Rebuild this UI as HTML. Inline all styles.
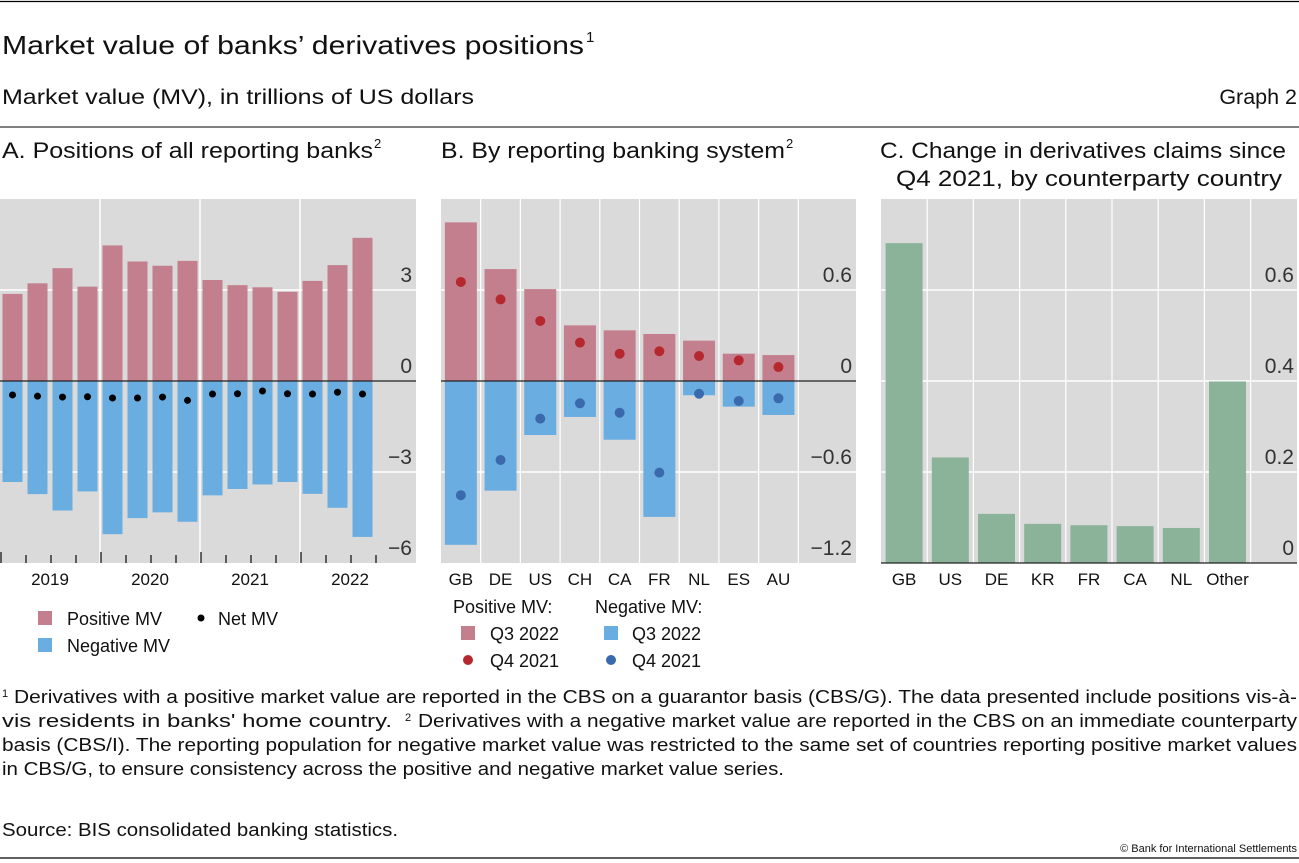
<!DOCTYPE html>
<html><head><meta charset="utf-8"><style>
html,body{margin:0;padding:0;background:#fff;}
svg{display:block;font-family:"Liberation Sans",sans-serif;}
</style></head><body>
<svg id="chart" width="1299" height="863" viewBox="0 0 1299 863" xmlns="http://www.w3.org/2000/svg">
<line x1="0" y1="1.5" x2="1299" y2="1.5" stroke="#000" stroke-width="1.2"/>
<text x="2" y="54" font-size="26" fill="#111" textLength="582" lengthAdjust="spacingAndGlyphs">Market value of banks’ derivatives positions</text>
<text x="586" y="42" font-size="15" fill="#111">1</text>
<text x="2" y="104" font-size="21.5" fill="#111" textLength="472" lengthAdjust="spacingAndGlyphs">Market value (MV), in trillions of US dollars</text>
<text x="1297" y="104" font-size="21.5" fill="#111" text-anchor="end">Graph 2</text>
<line x1="0" y1="127" x2="1299" y2="127" stroke="#000" stroke-width="1"/>
<text x="2" y="158" font-size="22" fill="#111" textLength="371" lengthAdjust="spacingAndGlyphs">A. Positions of all reporting banks</text>
<text x="374" y="148" font-size="13" fill="#111">2</text>
<text x="441" y="158" font-size="22" fill="#111" textLength="344" lengthAdjust="spacingAndGlyphs">B. By reporting banking system</text>
<text x="786" y="148" font-size="13" fill="#111">2</text>
<text x="880" y="158" font-size="22" fill="#111" textLength="406" lengthAdjust="spacingAndGlyphs">C. Change in derivatives claims since</text>
<text x="896" y="186" font-size="22" fill="#111" textLength="386" lengthAdjust="spacingAndGlyphs">Q4 2021, by counterparty country</text>
<g id="pa"></g><g id="pb"></g><g id="pc"></g>
<g id="legends">
<rect x="38" y="611" width="14" height="14" fill="#c47f8e"/>
<text x="67" y="625" font-size="18" fill="#111">Positive MV</text>
<rect x="38" y="638" width="14" height="14" fill="#6aade0"/>
<text x="67" y="652" font-size="18" fill="#111">Negative MV</text>
<circle cx="201" cy="618" r="3.5" fill="#000"/>
<text x="218" y="625" font-size="18" fill="#111">Net MV</text>
<text x="453" y="613" font-size="18" fill="#111">Positive MV:</text>
<rect x="461" y="626" width="14" height="14" fill="#c47f8e"/>
<text x="490" y="640" font-size="18" fill="#111">Q3 2022</text>
<circle cx="468" cy="660" r="5" fill="#b5282e"/>
<text x="490" y="667" font-size="18" fill="#111">Q4 2021</text>
<text x="595" y="613" font-size="18" fill="#111">Negative MV:</text>
<rect x="604" y="626" width="14" height="14" fill="#6aade0"/>
<text x="632" y="640" font-size="18" fill="#111">Q3 2022</text>
<circle cx="611" cy="660" r="5" fill="#3a6aad"/>
<text x="632" y="667" font-size="18" fill="#111">Q4 2021</text>
</g>
<g font-size="18" fill="#111">
<text x="2" y="697" font-size="11">1</text>
<text x="14" y="703" textLength="1283" lengthAdjust="spacingAndGlyphs">Derivatives with a positive market value are reported in the CBS on a guarantor basis (CBS/G). The data presented include positions vis-à-</text>
<text x="2" y="727" textLength="390" lengthAdjust="spacingAndGlyphs">vis residents in banks' home country.</text>
<text x="405" y="721" font-size="11">2</text>
<text x="418" y="727" textLength="879" lengthAdjust="spacingAndGlyphs">Derivatives with a negative market value are reported in the CBS on an immediate counterparty</text>
<text x="2" y="751" textLength="1295" lengthAdjust="spacingAndGlyphs">basis (CBS/I). The reporting population for negative market value was restricted to the same set of countries reporting positive market values</text>
<text x="2" y="775" textLength="782" lengthAdjust="spacingAndGlyphs">in CBS/G, to ensure consistency across the positive and negative market value series.</text>
<text x="2" y="836" textLength="396" lengthAdjust="spacingAndGlyphs">Source: BIS consolidated banking statistics.</text>
<text x="1297" y="852" font-size="11" text-anchor="end">© Bank for International Settlements</text>
</g>
<line x1="0" y1="858" x2="1299" y2="858" stroke="#000" stroke-width="1.2"/>
</svg>
<script>
// Panel A data
const aYears = ["2019","2020","2021","2022"];
const aPositive = [2.87,3.22,3.72,3.11,4.47,3.94,3.80,3.96,3.33,3.16,3.09,2.94,3.30,3.82,4.72];
const aNegative = [-3.33,-3.73,-4.27,-3.64,-5.05,-4.52,-4.33,-4.64,-3.77,-3.56,-3.41,-3.33,-3.72,-4.18,-5.14];
const aNet = [-0.46,-0.50,-0.53,-0.52,-0.56,-0.56,-0.53,-0.64,-0.43,-0.42,-0.33,-0.42,-0.43,-0.37,-0.43];
const aTicks = [3,0,-3,-6];
const aTickLabels = ["3","0","−3","−6"];
// Panel B data
const bCats = ["GB","DE","US","CH","CA","FR","NL","ES","AU"];
const bPosQ3 = [1.046,0.738,0.606,0.367,0.334,0.310,0.266,0.180,0.171];
const bNegQ3 = [-1.08,-0.723,-0.356,-0.237,-0.387,-0.896,-0.094,-0.169,-0.224];
const bPosQ4 = [0.653,0.538,0.396,0.253,0.180,0.196,0.165,0.136,0.092];
const bNegQ4 = [-0.753,-0.521,-0.248,-0.147,-0.209,-0.604,-0.084,-0.132,-0.114];
const bTicks = [0.6,0,-0.6,-1.2];
const bTickLabels = ["0.6","0","−0.6","−1.2"];
// Panel C data
const cCats = ["GB","US","DE","KR","FR","CA","NL","Other"];
const cVals = [0.703,0.232,0.108,0.086,0.083,0.081,0.077,0.399];
const cTicks = [0.6,0.4,0.2,0];
const cTickLabels = ["0.6","0.4","0.2","0"];

const NS="http://www.w3.org/2000/svg";
function mk(parent,tag,attrs){const e=document.createElementNS(NS,tag);for(const k in attrs)e.setAttribute(k,attrs[k]);parent.appendChild(e);return e;}
const TOP=199,BOT=563;

// ---------- Panel A ----------
(function(){
 const g=document.getElementById('pa');
 const x0=0,x1=416,slot=25;
 const y=v=>TOP+(6-v)/12*(BOT-TOP);
 const bg=mk(g,'rect',{x:x0,y:TOP,width:x1-x0,height:BOT-TOP,fill:'#dadada'});
 
 
 aTicks.forEach((t,i)=>{
  if(t!==0&&t!==-6){const l=mk(g,'line',{x1:x0,x2:x1,y1:y(t),y2:y(t),stroke:'#fff','stroke-width':1.5});
   
   }
  const tx=mk(g,'text',{x:412,y:y(t)-8,'font-size':21,fill:'#333','text-anchor':'end'});
  tx.textContent=aTickLabels[i];
  
  
 });
 aYears.forEach((yr,i)=>{
  if(i>0){const l=mk(g,'line',{x1:x0+i*100,x2:x0+i*100,y1:TOP,y2:BOT,stroke:'#fff','stroke-width':1.5});
   
   }
  const t=mk(g,'text',{x:x0+i*100+50,y:585,'font-size':17,fill:'#111','text-anchor':'middle'});
  t.textContent=yr;
  
  
 });
 for(let i=0;i<=15;i++){
  const xx=x0+i*slot+1; const long=i%4===0;
  const l=mk(g,'line',{x1:xx,x2:xx,y1:long?552:555,y2:563,stroke:'#333','stroke-width':1.5});
  
  
 }
 aPositive.forEach((v,i)=>{
  const cx=x0+12.5+i*slot;
  const r=mk(g,'rect',{x:cx-10,y:y(v),width:20,height:y(0)-y(v),fill:'#c47f8e'});
  
  
  const n=aNegative[i];
  const r2=mk(g,'rect',{x:cx-10,y:y(0),width:20,height:y(n)-y(0),fill:'#6aade0'});
  
  
 });
 const z=mk(g,'line',{x1:x0,x2:x1,y1:y(0),y2:y(0),stroke:'#222','stroke-width':1.3});
 
 
 aNet.forEach((v,i)=>{
  const c=mk(g,'circle',{cx:x0+12.5+i*slot,cy:y(v),r:3.5,fill:'#000'});
  
  
 });
})();

// ---------- Panel B ----------
(function(){
 const g=document.getElementById('pb');
 const x0=441,x1=856,slot=39.7;
 const y=v=>TOP+(1.2-v)/2.4*(BOT-TOP);
 const bg=mk(g,'rect',{x:x0,y:TOP,width:x1-x0,height:BOT-TOP,fill:'#dadada'});
 
 
 bTicks.forEach((t,i)=>{
  if(t!==0&&t!==-1.2){const l=mk(g,'line',{x1:x0,x2:x1,y1:y(t),y2:y(t),stroke:'#fff','stroke-width':1.5});
   
   }
  const tx=mk(g,'text',{x:852,y:y(t)-8,'font-size':21,fill:'#333','text-anchor':'end'});
  tx.textContent=bTickLabels[i];
  
  
 });
 for(let i=1;i<=bCats.length;i++){
  const l=mk(g,'line',{x1:x0+i*slot,x2:x0+i*slot,y1:TOP,y2:BOT,stroke:'#fff','stroke-width':1.2});
  
  
 }
 bCats.forEach((c,i)=>{
  const cx=x0+slot*(i+0.5);
  const r=mk(g,'rect',{x:cx-16,y:y(bPosQ3[i]),width:32,height:y(0)-y(bPosQ3[i]),fill:'#c47f8e'});
  
  
  const r2=mk(g,'rect',{x:cx-16,y:y(0),width:32,height:y(bNegQ3[i])-y(0),fill:'#6aade0'});
  
  
  const t=mk(g,'text',{x:cx,y:585,'font-size':17,fill:'#111','text-anchor':'middle'});
  t.textContent=c;
  
  
 });
 const z=mk(g,'line',{x1:x0,x2:x1,y1:y(0),y2:y(0),stroke:'#222','stroke-width':1.3});
 
 
 bCats.forEach((c,i)=>{
  const cx=x0+slot*(i+0.5);
  const d1=mk(g,'circle',{cx:cx,cy:y(bPosQ4[i]),r:5,fill:'#b5282e'});
  
  
  const d2=mk(g,'circle',{cx:cx,cy:y(bNegQ4[i]),r:5,fill:'#3a6aad'});
  
  
 });
})();

// ---------- Panel C ----------
(function(){
 const g=document.getElementById('pc');
 const x0=881,x1=1297,slot=46.2;
 const y=v=>BOT-v/0.8*(BOT-TOP);
 const bg=mk(g,'rect',{x:x0,y:TOP,width:x1-x0,height:BOT-TOP,fill:'#dadada'});
 
 
 cTicks.forEach((t,i)=>{
  if(t!==0){const l=mk(g,'line',{x1:x0,x2:x1,y1:y(t),y2:y(t),stroke:'#fff','stroke-width':1.5});
   
   }
  const tx=mk(g,'text',{x:1294,y:y(t)-8,'font-size':21,fill:'#333','text-anchor':'end'});
  tx.textContent=cTickLabels[i];
  
  
 });
 for(let i=1;i<=cCats.length;i++){
  const l=mk(g,'line',{x1:x0+i*slot,x2:x0+i*slot,y1:TOP,y2:BOT,stroke:'#fff','stroke-width':1.2});
  
  
 }
 cCats.forEach((c,i)=>{
  const cx=x0+slot*(i+0.5);
  const r=mk(g,'rect',{x:cx-18.5,y:y(cVals[i]),width:37,height:y(0)-y(cVals[i]),fill:'#8ab39a'});
  
  
  const t=mk(g,'text',{x:cx,y:585,'font-size':17,fill:'#111','text-anchor':'middle'});
  t.textContent=c;
  
  
 });
 const z=mk(g,'line',{x1:x0,x2:x1,y1:y(0),y2:y(0),stroke:'#222','stroke-width':1.3});
 
 
})();
</script>
</body></html>
